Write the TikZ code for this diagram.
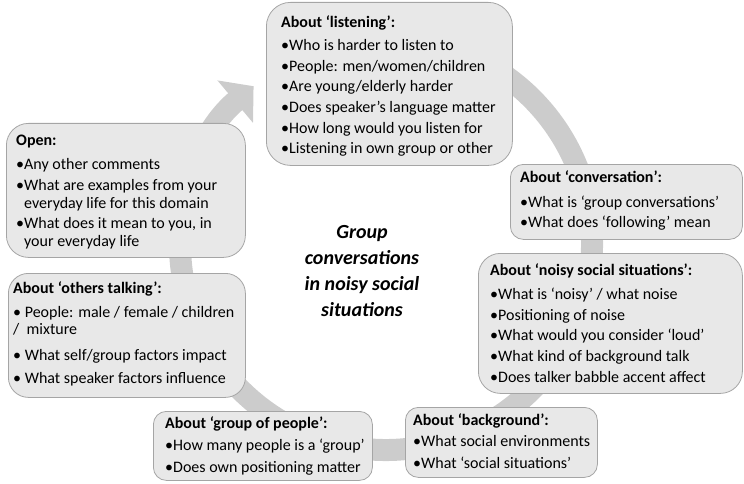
\documentclass[tikz,border=0pt]{standalone}
\usepackage{fontspec}
\setmainfont{Carlito}
\usetikzlibrary{arrows.meta}
\definecolor{arcgray}{RGB}{204,204,204}
\definecolor{boxfill}{RGB}{232,232,232}
\definecolor{boxline}{RGB}{165,165,165}
\tikzset{
  panel/.style={draw=boxline, fill=boxfill, line width=0.8pt, inner sep=0pt, anchor=north west},
  txt/.style={anchor=base west, inner sep=0pt, font=\fontsize{16}{17.5}\selectfont},
  centertxt/.style={anchor=base, inner sep=0pt, font=\fontsize{20}{26}\selectfont\bfseries\itshape},
  cyclearrow/.style={draw=arcgray, line width=22pt, -{Triangle[width=54pt,length=24pt]}}
}
\newcommand\pgap{\vskip3.2pt}
\begin{document}
\begin{tikzpicture}[x=1pt,y=-1pt]
\useasboundingbox (0,0) rectangle (744,484);
\coordinate (cc) at (386,244);
\draw[cyclearrow] (cc) ++(260:206) arc[start angle=260, end angle=590, radius=206];

% boxes
\node[panel, minimum width=246pt, minimum height=163pt, rounded corners=24pt] (listenbox) at (266,2) {};
\node[panel, minimum width=239pt, minimum height=134pt, rounded corners=22pt] (openbox) at (6,123) {};
\node[panel, minimum width=237pt, minimum height=124pt, rounded corners=20pt] (othersbox) at (8,273) {};
\node[panel, minimum width=232pt, minimum height=75pt, rounded corners=13pt] (convbox) at (510,164) {};
\node[panel, minimum width=264pt, minimum height=140pt, rounded corners=22pt] (noisybox) at (478,253) {};
\node[panel, minimum width=219pt, minimum height=69pt, rounded corners=13pt] (groupbox) at (153,411) {};
\node[panel, minimum width=192pt, minimum height=70pt, rounded corners=13pt] (bgbox) at (405,407) {};

% texts
\node[txt] (listentext) at (281,27.5) {\vtop{%
  \hbox{\bfseries About ‘listening’:}\vskip5.5pt
  \hbox{•Who is harder to listen to}\pgap
  \hbox{•People: men/women/children}\pgap
  \hbox{•Are young/elderly harder}\pgap
  \hbox{•Does speaker’s language matter}\pgap
  \hbox{•How long would you listen for}\pgap
  \hbox{•Listening in own group or other}}};

\node[txt] (opentext) at (16,146) {\vtop{%
  \hbox{\bfseries Open:}\vskip6.5pt
  \hbox{•Any other comments}\pgap
  \hbox{•What are examples from your}
  \hbox{\hphantom{•}everyday life for this domain}\pgap
  \hbox{•What does it mean to you, in}
  \hbox{\hphantom{•}your everyday life}}};

\node[txt] (otherstext) at (13,293) {\vtop{%
  \hbox{\bfseries About ‘others talking’:}\vskip6.8pt
  \hbox{• People: male / female / children}
  \hbox{/\ \ mixture}\vskip7.7pt
  \hbox{• What self/group factors impact}\vskip5.8pt
  \hbox{• What speaker factors influence}}};

\node[txt] (convtext) at (520,182) {\vtop{%
  \hbox{\bfseries About ‘conversation’:}\vskip7.5pt
  \hbox{•What is ‘group conversations’}\pgap
  \hbox{•What does ‘following’ mean}}};

\node[txt] (noisytext) at (490,275.5) {\vtop{%
  \hbox{\bfseries About ‘noisy social situations’:}\vskip6.5pt
  \hbox{•What is ‘noisy’ / what noise}\pgap
  \hbox{•Positioning of noise}\pgap
  \hbox{•What would you consider ‘loud’}\pgap
  \hbox{•What kind of background talk}\pgap
  \hbox{•Does talker babble accent affect}}};

\node[txt] (grouptext) at (165,428) {\vtop{%
  \hbox{\bfseries About ‘group of people’:}\vskip5pt
  \hbox{•How many people is a ‘group’}\vskip4pt
  \hbox{•Does own positioning matter}}};

\node[txt] (bgtext) at (413,425) {\vtop{%
  \hbox{\bfseries About ‘background’:}\vskip4pt
  \hbox{•What social environments}\vskip4pt
  \hbox{•What ‘social situations’}}};

\node[centertxt] (title) at (362,238) {\vtop{\baselineskip=26pt\halign{\hfil#\hfil\cr
  Group\cr conversations\cr in noisy social\cr situations\cr}}};
\end{tikzpicture}
\end{document}
